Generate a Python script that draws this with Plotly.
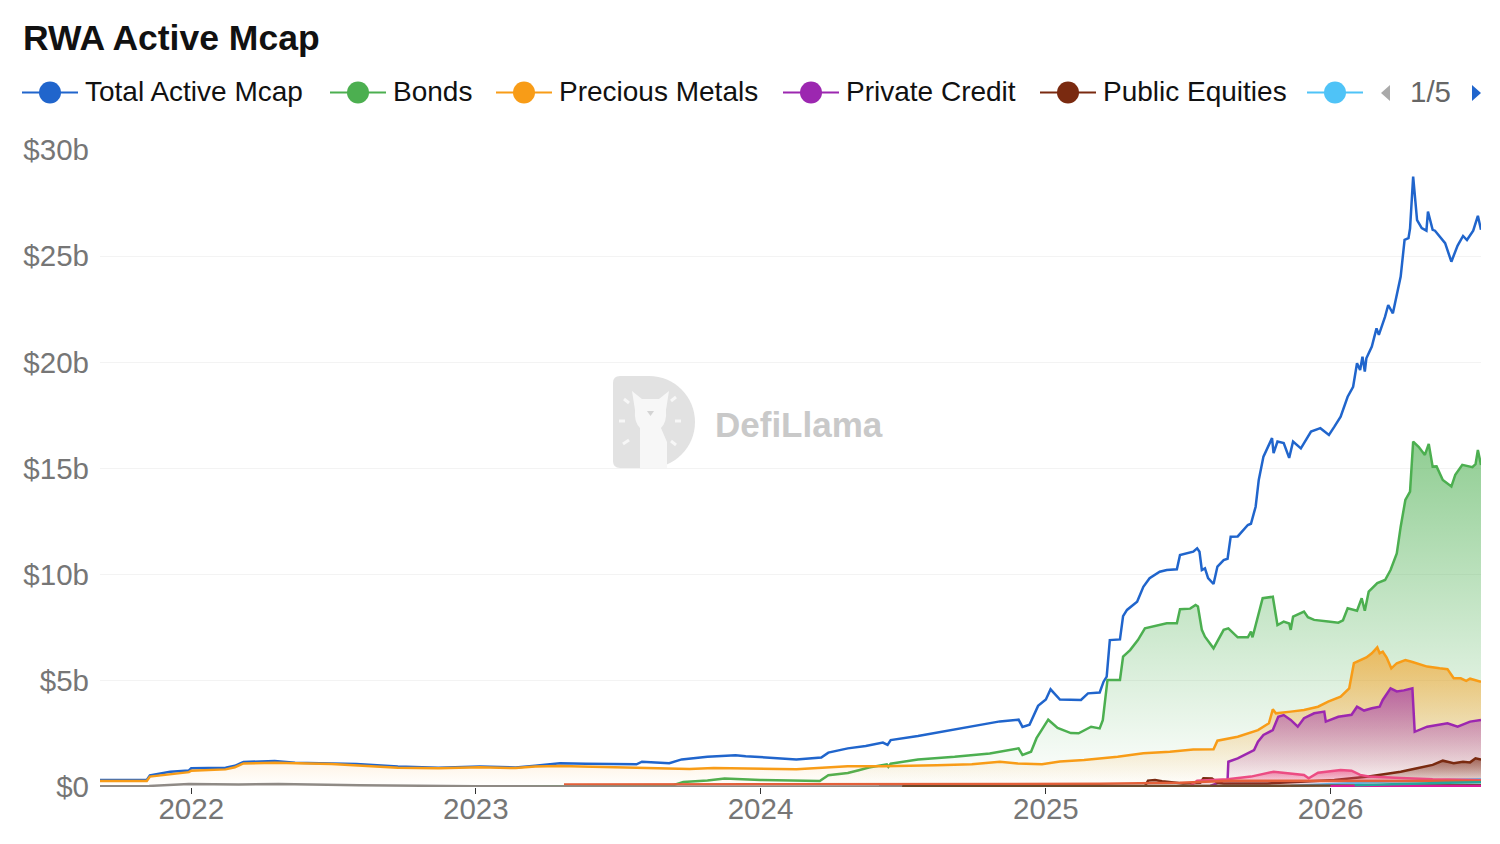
import plotly.graph_objects as go

# ---------------- data (values in $ billions) ----------------
total_dates = ["2021-09-06","2021-11-05","2021-11-09","2021-12-05","2021-12-29","2022-01-01","2022-02-14","2022-02-26","2022-03-09","2022-04-18",
               "2022-05-14","2022-06-30","2022-08-01","2022-09-23","2022-11-14","2023-01-06","2023-02-21","2023-03-18","2023-04-19","2023-05-22",
               "2023-07-26","2023-08-02","2023-09-06","2023-09-22","2023-10-25","2023-11-30","2023-12-13","2024-02-16","2024-03-19","2024-03-28",
               "2024-04-22","2024-05-15","2024-06-06","2024-06-12","2024-06-16","2024-07-21","2024-09-05","2024-11-03","2024-11-27","2024-12-02",
               "2024-12-11","2024-12-22","2025-01-01","2025-01-07","2025-01-19","2025-02-15","2025-02-24","2025-03-11","2025-03-16","2025-03-20",
               "2025-03-24","2025-04-06","2025-04-10","2025-04-15","2025-04-28","2025-05-06","2025-05-14","2025-05-27","2025-06-05","2025-06-18",
               "2025-06-22","2025-07-09","2025-07-14","2025-07-17","2025-07-20","2025-07-24","2025-07-28","2025-08-04","2025-08-09","2025-08-17",
               "2025-08-22","2025-08-26","2025-09-04","2025-09-17","2025-09-21","2025-09-27","2025-10-01","2025-10-07","2025-10-18","2025-10-20",
               "2025-10-25","2025-11-02","2025-11-09","2025-11-14","2025-11-24","2025-12-07","2025-12-19","2025-12-30","2026-01-06","2026-01-14",
               "2026-01-23","2026-01-30","2026-02-04","2026-02-08","2026-02-11","2026-02-14","2026-02-16","2026-02-23","2026-03-01","2026-03-04",
               "2026-03-12","2026-03-16","2026-03-22","2026-03-27","2026-04-01","2026-04-06","2026-04-11","2026-04-13","2026-04-17","2026-04-22",
               "2026-04-28","2026-05-04","2026-05-06","2026-05-12","2026-05-15","2026-05-28","2026-06-05","2026-06-13","2026-06-20","2026-06-25",
               "2026-07-03","2026-07-09","2026-07-13"]
total_vals = [0.33,0.33,0.55,0.72,0.78,0.88,0.91,1.0,1.18,1.22,
              1.14,1.12,1.08,0.96,0.91,0.96,0.92,1.0,1.12,1.09,
              1.07,1.19,1.12,1.3,1.42,1.5,1.45,1.3,1.39,1.62,
              1.82,1.93,2.09,1.98,2.21,2.4,2.69,3.09,3.17,2.83,
              2.93,3.82,4.12,4.6,4.12,4.1,4.41,4.45,4.96,5.2,
              6.92,6.95,8.05,8.34,8.73,9.43,9.83,10.14,10.22,10.25,
              10.93,11.08,11.24,11.08,10.22,10.3,9.84,9.56,10.38,10.69,
              10.75,11.79,11.8,12.34,12.4,13.2,14.46,15.56,16.43,15.72,
              16.27,16.2,15.5,16.27,15.95,16.74,16.9,16.58,16.97,17.44,
              18.38,18.85,19.96,19.64,20.27,19.56,20.19,20.74,21.6,21.29,
              22.15,22.7,22.31,23.1,24.04,25.77,25.85,26.3,28.75,26.7,
              26.32,26.2,27.1,26.24,26.2,25.61,24.74,25.5,25.95,25.76,
              26.2,26.9,26.24]

bonds_dates = ["2023-02-21","2023-06-09","2023-09-12","2023-09-24","2023-10-25","2023-11-16","2024-01-01","2024-03-17","2024-03-28","2024-04-22",
               "2024-05-06","2024-05-19","2024-06-11","2024-06-13","2024-06-16","2024-07-21","2024-09-06","2024-10-21","2024-11-27","2024-12-02",
               "2024-12-13","2024-12-20","2025-01-04","2025-01-16","2025-02-02","2025-02-12","2025-02-28","2025-03-11","2025-03-15","2025-03-21",
               "2025-04-06","2025-04-10","2025-04-19","2025-04-29","2025-05-08","2025-06-05","2025-06-18","2025-06-22","2025-07-05","2025-07-12",
               "2025-07-15","2025-07-20","2025-07-24","2025-08-04","2025-08-17","2025-08-23","2025-09-04","2025-09-17","2025-09-21","2025-09-23",
               "2025-10-06","2025-10-19","2025-10-25","2025-11-02","2025-11-09","2025-11-11","2025-11-14","2025-11-28","2025-12-03","2025-12-11",
               "2025-12-29","2026-01-11","2026-01-17","2026-01-23","2026-02-04","2026-02-10","2026-02-14","2026-02-19","2026-03-02","2026-03-12",
               "2026-03-19","2026-03-27","2026-04-01","2026-04-07","2026-04-13","2026-04-17","2026-04-24","2026-05-02","2026-05-07","2026-05-12",
               "2026-05-17","2026-05-25","2026-06-05","2026-06-10","2026-06-19","2026-07-02","2026-07-06","2026-07-09","2026-07-13"]
bonds_vals = [0.02,0.03,0.1,0.24,0.31,0.4,0.33,0.28,0.55,0.66,
              0.79,0.92,1.07,0.95,1.1,1.3,1.42,1.58,1.82,1.51,
              1.66,2.3,3.17,2.78,2.54,2.53,2.84,2.76,3.15,5.04,
              5.04,6.14,6.45,6.92,7.47,7.71,7.71,8.37,8.4,8.57,
              8.5,7.4,7.08,6.53,7.4,7.47,7.05,7.05,7.32,7.05,
              8.89,8.96,7.63,7.79,7.7,7.4,8.02,8.26,8.0,7.87,
              7.79,7.74,7.85,8.42,8.3,8.89,8.3,9.2,9.6,9.75,
              10.22,11.0,12.26,13.52,13.91,16.27,16.02,15.64,16.16,15.09,
              15.1,14.46,14.15,14.7,15.17,15.06,15.2,15.87,15.17]

metals_dates = ["2021-09-06","2021-11-05","2021-11-09","2021-12-05","2021-12-29","2022-01-01","2022-02-14","2022-02-26","2022-03-09","2022-04-18",
                "2022-06-30","2022-09-23","2022-11-14","2023-01-06","2023-02-21","2023-03-18","2023-04-19","2023-07-26","2023-10-02","2023-11-02",
                "2024-02-16","2024-04-22","2024-06-06","2024-08-14","2024-09-28","2024-11-03","2024-11-26","2024-12-27","2025-01-19","2025-02-19",
                "2025-04-03","2025-05-06","2025-06-09","2025-07-09","2025-08-04","2025-08-09","2025-09-04","2025-09-30","2025-10-14","2025-10-19",
                "2025-10-23","2025-11-11","2025-11-28","2025-12-16","2025-12-29","2026-01-14","2026-01-25","2026-01-31","2026-02-08","2026-02-16",
                "2026-02-23","2026-03-02","2026-03-05","2026-03-09","2026-03-14","2026-03-20","2026-03-27","2026-04-07","2026-04-15","2026-05-05",
                "2026-05-21","2026-05-31","2026-06-08","2026-06-17","2026-06-24","2026-06-29","2026-07-13"]
metals_vals = [0.28,0.28,0.49,0.61,0.7,0.77,0.83,0.93,1.11,1.14,
               1.08,0.91,0.88,0.93,0.89,0.96,0.99,0.91,0.85,0.9,
               0.84,0.98,0.98,1.03,1.07,1.19,1.11,1.07,1.2,1.27,
               1.43,1.59,1.66,1.77,1.78,2.18,2.37,2.68,3.0,3.66,
               3.47,3.55,3.63,3.78,4.02,4.25,4.65,5.83,5.98,6.1,
               6.3,6.58,6.3,6.38,6.1,5.59,5.83,5.98,5.9,5.67,
               5.59,5.55,5.12,5.12,5.0,5.1,4.96]

credit_dates = ["2025-07-31","2025-08-17","2025-08-22","2025-08-23","2025-09-04","2025-09-25","2025-09-30","2025-10-07","2025-10-19","2025-10-26",
                "2025-11-02","2025-11-11","2025-11-20","2025-11-28","2025-12-11","2025-12-24","2025-12-26","2026-01-11","2026-01-28","2026-02-04",
                "2026-02-13","2026-02-23","2026-03-05","2026-03-09","2026-03-19","2026-03-27","2026-04-05","2026-04-16","2026-04-19","2026-05-05",
                "2026-05-31","2026-06-13","2026-06-29","2026-07-13"]
credit_vals = [0.05,0.3,0.33,1.19,1.35,1.74,2.13,2.45,2.68,3.31,
               3.39,3.16,2.84,3.24,3.47,3.55,3.08,3.31,3.4,3.78,
               3.6,3.71,3.78,4.1,4.65,4.5,4.55,4.65,2.6,2.84,
               3.0,2.84,3.08,3.16]

equities_dates = ["2024-06-01","2025-05-08","2025-05-12","2025-05-21","2025-05-30","2025-06-26","2025-07-18","2025-07-22","2025-08-02","2025-08-09",
                  "2025-08-17","2025-10-12","2025-11-24","2026-01-06","2026-02-19","2026-04-01","2026-04-22","2026-05-12","2026-05-25","2026-06-08",
                  "2026-06-20","2026-06-29","2026-07-06","2026-07-13"]
equities_vals = [0.02,0.03,0.3,0.33,0.27,0.17,0.2,0.41,0.4,0.2,
                 0.17,0.17,0.25,0.33,0.49,0.72,0.88,1.04,1.24,1.12,
                 1.19,1.16,1.35,1.3]

commod_dates = ["2025-11-11","2026-01-10","2026-03-05","2026-04-29","2026-06-01","2026-07-13"]
commod_vals = [0.05,0.15,0.25,0.3,0.33,0.36]

funds_dates = ["2025-07-05","2025-07-14","2025-08-22","2025-09-21","2025-10-20","2025-11-07","2025-11-28","2025-12-04","2025-12-16","2026-01-14",
               "2026-01-28","2026-02-08","2026-02-19","2026-04-01","2026-05-12","2026-07-13"]
funds_vals = [0.05,0.3,0.36,0.49,0.72,0.65,0.57,0.41,0.67,0.8,
              0.77,0.57,0.49,0.42,0.36,0.33]

estate_dates = ["2023-04-24","2024-01-01","2024-11-04","2025-03-11","2025-06-22","2025-08-26","2025-11-24","2026-04-01","2026-07-13"]
estate_vals = [0.12,0.12,0.12,0.15,0.2,0.3,0.3,0.28,0.3]

other_dates = ["2021-09-06","2021-11-08","2021-12-29","2022-03-03","2022-04-23","2022-08-05","2023-01-01","2023-06-09","2023-09-12","2024-07-01"]
other_vals = [0.03,0.05,0.14,0.12,0.14,0.08,0.04,0.02,0.01,0.02]

trade_dates = ["2024-07-01","2025-01-01","2025-07-01","2026-01-01","2026-07-13"]
trade_vals = [0.03,0.04,0.05,0.06,0.08]

carbon_dates = ["2026-01-01","2026-03-01","2026-05-01","2026-07-13"]
carbon_vals = [0.03,0.04,0.05,0.05]

teal_dates = ["2026-02-01","2026-04-01","2026-06-01","2026-07-13"]
teal_vals = [0.08,0.15,0.2,0.22]

y_ticks = [0, 5, 10, 15, 20, 25, 30]
y_labels = ["$0", "$5b", "$10b", "$15b", "$20b", "$25b", "$30b"]
x_ticks = ["2022-01-01", "2023-01-01", "2024-01-01", "2025-01-01", "2026-01-01"]
x_labels = ["2022", "2023", "2024", "2025", "2026"]

legend_labels = ["Total Active Mcap", "Bonds", "Precious Metals", "Private Credit", "Public Equities", ""]

# ---------------- styling ----------------
BLUE, GREEN, ORANGE, PURPLE, BROWN, LBLUE = "#2065cc", "#4caf50", "#f89c17", "#9c27b0", "#7a2a10", "#4fc3f7"
PINK, RED, GRAY, OLIVE, MAGENTA, TEAL = "#ec4c83", "#e4603a", "#8f8a85", "#6b4a2c", "#d81b9a", "#26a69a"

W, H = 1500, 844
L, R, T, B = 100, 19, 150, 57
PW, PH = W - L - R, H - T - B
def px(x): return (x - L) / PW
def py(y): return (H - B - y) / PH

FONT = "Liberation Sans, Arial, sans-serif"

fig = go.Figure()

def rgba(hexc, a):
    h = hexc.lstrip("#")
    return "rgba(%d,%d,%d,%s)" % (int(h[0:2], 16), int(h[2:4], 16), int(h[4:6], 16), a)

def add_series(name, dates, vals, color, filled=False, width=2.5):
    kw = {}
    if filled:
        kw = dict(fill="tozeroy",
                  fillgradient=dict(type="vertical", start=0, stop=max(vals),
                                    colorscale=[[0, rgba(color, 0.0)], [1, rgba(color, 0.62)]]))
    fig.add_trace(go.Scatter(x=dates, y=vals, name=name, mode="lines",
                             line=dict(color=color, width=width), showlegend=False,
                             hoverinfo="skip", **kw))

add_series("Total Active Mcap", total_dates, total_vals, BLUE)
add_series("Bonds", bonds_dates, bonds_vals, GREEN, True)
add_series("Precious Metals", metals_dates, metals_vals, ORANGE, True)
add_series("Private Credit", credit_dates, credit_vals, PURPLE, True)
add_series("Public Equities", equities_dates, equities_vals, BROWN, True)
add_series("Commodities", commod_dates, commod_vals, LBLUE)
add_series("Institutional Funds", funds_dates, funds_vals, PINK, True)
add_series("Real Estate", estate_dates, estate_vals, RED)
add_series("Other", other_dates, other_vals, GRAY)
add_series("Trade Finance", trade_dates, trade_vals, OLIVE)
add_series("Carbon Credits", carbon_dates, carbon_vals, MAGENTA)
add_series("Venture", teal_dates, teal_vals, TEAL)

shapes = []
annotations = []

# title
annotations.append(dict(text="<b>RWA Active Mcap</b>", xref="paper", yref="paper", x=px(21), y=py(38),
                        xanchor="left", yanchor="middle", showarrow=False,
                        font=dict(family=FONT, size=35.5, color="#111111")))

# legend (first page of paginated legend)
leg_y = 92.5
leg_colors = [BLUE, GREEN, ORANGE, PURPLE, BROWN, LBLUE]
leg_x0 = [22, 330, 496, 783, 1040, 1307]
for lab, col, x0 in zip(legend_labels, leg_colors, leg_x0):
    shapes.append(dict(type="line", xref="paper", yref="paper", x0=px(x0), x1=px(x0 + 56),
                       y0=py(leg_y), y1=py(leg_y), line=dict(color=col, width=2)))
    cx = x0 + 28
    shapes.append(dict(type="circle", xref="paper", yref="paper", x0=px(cx - 11), x1=px(cx + 11),
                       y0=py(leg_y + 11), y1=py(leg_y - 11), fillcolor=col, line=dict(width=0)))
    if lab:
        annotations.append(dict(text=lab, xref="paper", yref="paper", x=px(x0 + 61), y=py(leg_y - 1),
                                xanchor="left", yanchor="middle", showarrow=False,
                                font=dict(family=FONT, size=28, color="#111111")))

# pager
def tri(points, color):
    d = "M " + " L ".join("%f,%f" % (px(a), py(b)) for a, b in points) + " Z"
    return dict(type="path", xref="paper", yref="paper", path=d, fillcolor=color, line=dict(width=0))
shapes.append(tri([(1390, 85), (1390, 101), (1381, 93)], "#aaaaaa"))
shapes.append(tri([(1472, 85), (1472, 101), (1481, 93)], "#2065cc"))
annotations.append(dict(text="1/5", xref="paper", yref="paper", x=px(1430.5), y=py(leg_y - 1),
                        xanchor="center", yanchor="middle", showarrow=False,
                        font=dict(family=FONT, size=29.5, color="#666666")))

# watermark logo (D with llama)
def pathd(cmds):
    out = []
    for c in cmds:
        if isinstance(c, str):
            out.append(c)
        else:
            out.append("%f,%f" % (px(c[0]), py(c[1])))
    return " ".join(out)

k = 0.5523 * 46
dlogo = pathd(["M", (620, 376), "L", (649, 376), "C", (649 + k, 376), (695, 422 - k), (695, 422),
               "C", (695, 422 + k), (649 + k, 468), (649, 468), "L", (620, 468),
               "Q", (613, 468), (613, 461), "L", (613, 383), "Q", (613, 376), (620, 376), "Z"])
shapes.append(dict(type="path", xref="paper", yref="paper", path=dlogo, fillcolor="#e2e2e2",
                   line=dict(width=0), layer="below"))
llama = pathd(["M", (640, 468), "L", (640, 428), "Q", (634, 422), (635, 410), "L", (632, 391),
               "L", (642, 399), "L", (659, 399), "L", (669, 391), "L", (666, 410),
               "Q", (667, 422), (661, 428), "L", (667, 442), "L", (667, 468), "Z"])
shapes.append(dict(type="path", xref="paper", yref="paper", path=llama, fillcolor="#f7f7f7",
                   line=dict(width=0), layer="below"))
shapes.append(tri([(647, 411), (654, 411), (650.5, 416)], "#d4d4d4"))
for (a, b, c, d) in [(624, 399, 629, 403), (619, 421, 625, 421), (623, 444, 629, 440),
                     (671, 401, 676, 397), (675, 421, 681, 421), (671, 441, 676, 445)]:
    shapes.append(dict(type="line", xref="paper", yref="paper", x0=px(a), y0=py(b), x1=px(c), y1=py(d),
                       line=dict(color="#f7f7f7", width=3), layer="below"))
annotations.append(dict(text="<b>DefiLlama</b>", xref="paper", yref="paper", x=px(799), y=py(424),
                        xanchor="center", yanchor="middle", showarrow=False,
                        font=dict(family=FONT, size=35, color="#c9c9c9")))

fig.update_layout(
    width=W, height=H, margin=dict(l=L, r=R, t=T, b=B),
    paper_bgcolor="white", plot_bgcolor="white", showlegend=False,
    font=dict(family=FONT), shapes=shapes, annotations=annotations,
)
fig.update_xaxes(type="date", range=[total_dates[0], total_dates[-1]],
                 tickvals=x_ticks, ticktext=x_labels, ticks="outside", ticklen=6, tickwidth=1,
                 tickcolor="#333333", showgrid=False, showline=False, zeroline=False,
                 tickfont=dict(family=FONT, size=29.5, color="#767676"), ticklabelstandoff=-10)
fig.update_yaxes(range=[0, 30], tickvals=y_ticks, ticktext=y_labels, ticks="",
                 showgrid=True, gridcolor="#f3f3f3", gridwidth=1, zeroline=False, showline=False,
                 tickfont=dict(family=FONT, size=29.5, color="#767676"), ticklabelstandoff=10)

fig.write_html("out.html", config={"displayModeBar": False})
